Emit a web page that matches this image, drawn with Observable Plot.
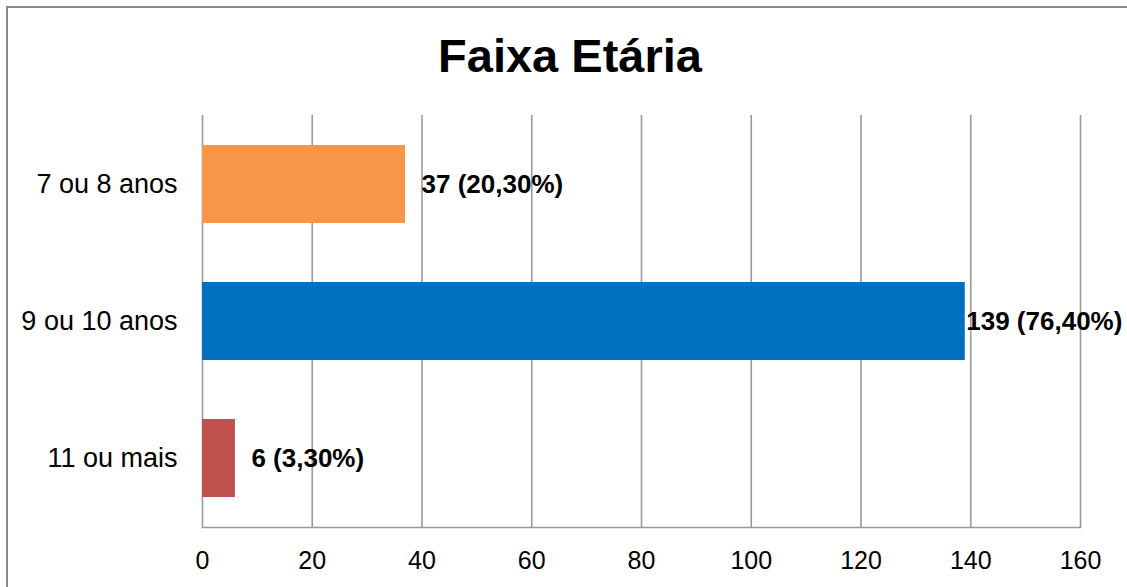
<!DOCTYPE html>
<html>
<head>
<meta charset="utf-8">
<script src="https://cdn.jsdelivr.net/npm/d3@7"></script>
<script src="https://cdn.jsdelivr.net/npm/@observablehq/plot@0.6"></script>
<style>
  html, body { margin: 0; padding: 0; background: #fff; overflow: hidden; }
  #wrap { position: relative; width: 1127px; height: 587px; font-family: Arial, "Liberation Sans", sans-serif; }
  #border { position: absolute; left: 6px; top: 6px; width: 1200px; height: 700px; border-left: 2px solid #888; border-top: 2px solid #888; }
  #title { position: absolute; left: 0; width: 1140px; top: 28px; text-align: center; font-weight: bold; font-size: 47px; color: #000; line-height: 56px; }
  #chart { position: absolute; left: 0; top: 0; }
</style>
</head>
<body>
<div id="wrap">
  <div id="border"></div>
  <div id="chart"></div>
  <div id="title">Faixa Etária</div>
</div>
<script>
const categories = ["7 ou 8 anos", "9 ou 10 anos", "11 ou mais"];
const values = [37, 139, 6];
const labels = ["37 (20,30%)", "139 (76,40%)", "6 (3,30%)"];
const colors = ["#F79646", "#0070C0", "#C0504D"];
const xTicks = [0, 20, 40, 60, 80, 100, 120, 140, 160];

const data = categories.map((c, i) => ({cat: c, value: values[i], label: labels[i]}));

const chart = Plot.plot({
  width: 1127,
  height: 587,
  marginLeft: 202,
  marginRight: 47,
  marginTop: 115,
  marginBottom: 60,
  style: {fontFamily: "Arial, 'Liberation Sans', sans-serif", background: "transparent", color: "#000"},
  x: {domain: [0, 160]},
  y: {domain: categories, paddingInner: 0.43, paddingOuter: 0.215},
  color: {domain: categories, range: colors},
  marks: [
    Plot.ruleX(xTicks, {stroke: "#999", strokeWidth: 1.6, strokeOpacity: 1}),
    Plot.barX(data, {x: "value", y: "cat", fill: "cat"}),
    Plot.axisX({ticks: xTicks, tickSize: 0, tickPadding: 24, fontSize: 25, tickFormat: d => String(d), label: null}),
    Plot.axisY({tickSize: 0, tickPadding: 25, fontSize: 27, label: null}),
    Plot.frame({anchor: "bottom", stroke: "#999", strokeWidth: 1.6}),
    Plot.text(data.filter(d => d.value !== 139), {x: "value", y: "cat", text: "label", textAnchor: "start", dx: 16, fontSize: 26, fontWeight: "bold", fill: "#000"}),
    Plot.text(data.filter(d => d.value === 139), {x: "value", y: "cat", text: "label", textAnchor: "start", dx: 1, fontSize: 26, fontWeight: "bold", fill: "#000"})
  ]
});
document.getElementById("chart").appendChild(chart);
</script>
</body>
</html>
